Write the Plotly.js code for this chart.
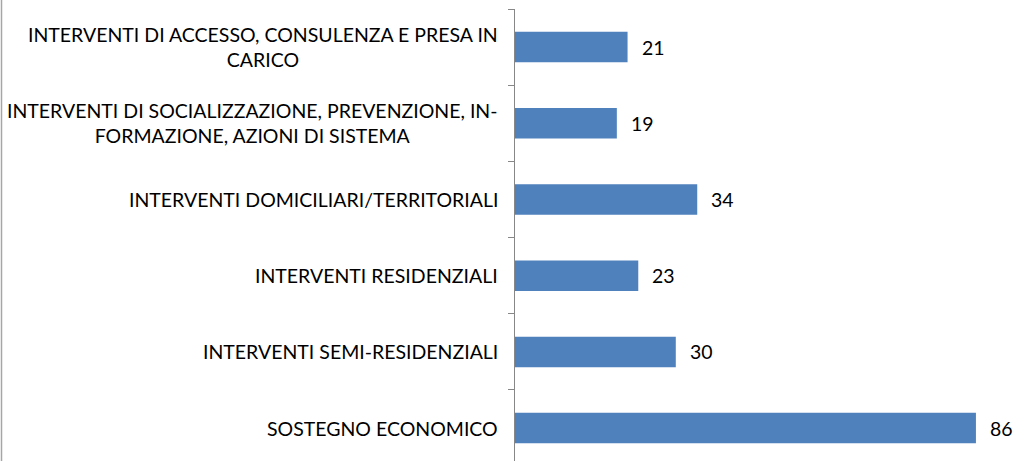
<!DOCTYPE html>
<html>
<head>
<meta charset="utf-8">
<script src="https://cdn.plot.ly/plotly-3.0.1.min.js"></script>
<style>html,body{margin:0;padding:0;background:#fff;}#chart{width:1017px;height:461px;}</style>
</head>
<body>
<div id="chart"></div>
<script>
const categories = [
  "INTERVENTI DI ACCESSO, CONSULENZA E PRESA IN<br>CARICO",
  "INTERVENTI DI SOCIALIZZAZIONE, PREVENZIONE, IN-<br>FORMAZIONE, AZIONI DI SISTEMA",
  "INTERVENTI DOMICILIARI/TERRITORIALI",
  "INTERVENTI RESIDENZIALI",
  "INTERVENTI SEMI-RESIDENZIALI",
  "SOSTEGNO ECONOMICO"
];
const values = [21, 19, 34, 23, 30, 86];

const FONT = "Lato, 'Open Sans', sans-serif";
const FS = 19.5;

const trace = {
  type: 'bar',
  orientation: 'h',
  x: values,
  y: categories,
  width: 0.4,
  marker: {color: '#4F81BD', line: {width: 0}},
  hoverinfo: 'x+y'
};

const valueLabels = values.map((v, i) => ({
  x: v, y: categories[i], xref: 'x', yref: 'y',
  text: String(v), showarrow: false, xanchor: 'left', xshift: 12,
  font: {family: FONT, size: FS, color: '#000'}
}));

const categoryLabels = categories.map((c) => ({
  x: 0, y: c, xref: 'x', yref: 'y',
  text: c, showarrow: false, xanchor: 'right', align: 'center', xshift: -15,
  font: {family: FONT, size: FS, color: '#000'}
}));

const layout = {
  width: 1017, height: 461,
  margin: {l: 515, r: 0, t: 9, b: 0, pad: 0},
  paper_bgcolor: '#fff', plot_bgcolor: '#fff',
  showlegend: false,
  xaxis: {
    range: [0, 93.66], visible: false, showgrid: false, zeroline: false, fixedrange: true
  },
  yaxis: {
    type: 'category',
    range: [5.432, -0.5],
    showline: true, linecolor: '#878787', linewidth: 1,
    ticks: 'outside', tickson: 'boundaries', ticklen: 6, tickcolor: '#878787', tickwidth: 1,
    showticklabels: false,
    showgrid: false, zeroline: false,
    fixedrange: true
  },
  annotations: categoryLabels.concat(valueLabels),
  shapes: [{
    type: 'line', xref: 'paper', yref: 'paper',
    x0: (1.5 - 515) / 502, x1: (1.5 - 515) / 502,
    y0: -0.01, y1: 1 + 9 / 452,
    line: {color: '#A6A6A6', width: 1.5}
  }]
};

Plotly.newPlot('chart', [trace], layout, {displayModeBar: false, staticPlot: true});
</script>
</body>
</html>
